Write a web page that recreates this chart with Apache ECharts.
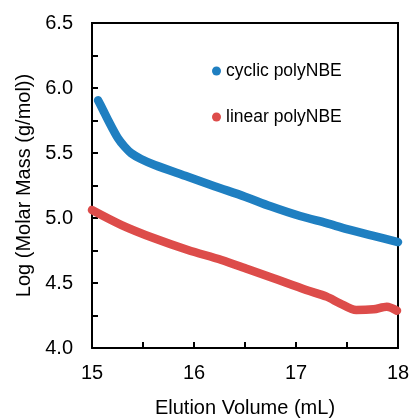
<!DOCTYPE html>
<html><head><meta charset="utf-8">
<script src="https://cdn.jsdelivr.net/npm/echarts@6/dist/echarts.min.js"></script>
<style>html,body{margin:0;padding:0;background:#fff}#c{width:411px;height:418px}</style>
</head><body><div id="c"></div>
<script>
const cyclicX = [15.06, 15.108, 15.157, 15.255, 15.32, 15.385, 15.48, 15.615, 15.94, 16.2, 16.5, 16.75, 17.04, 17.3, 17.5, 17.75, 18.0];
const cyclicY = [5.905, 5.831, 5.754, 5.613, 5.548, 5.498, 5.454, 5.408, 5.318, 5.245, 5.164, 5.09, 5.015, 4.96, 4.915, 4.865, 4.815];
const linearX = [15.0, 15.29, 15.61, 15.94, 16.27, 16.53, 16.78, 17.10, 17.30, 17.43, 17.59, 17.76, 17.89, 17.99];
const linearY = [5.062, 4.946, 4.844, 4.754, 4.677, 4.605, 4.536, 4.446, 4.395, 4.344, 4.292, 4.298, 4.318, 4.287];
const seriesNames = ['cyclic polyNBE', 'linear polyNBE'];
const xTicks = { min: 15, max: 18, step: 1 };
const yTicks = { min: 4.0, max: 6.5, step: 0.5 };

const zip = (a, b) => a.map((v, i) => [v, b[i]]);
const font = 'Liberation Sans, Arial, sans-serif';
const blackLine = { color: '#000', width: 2 };
const nX = Math.round((xTicks.max - xTicks.min) / xTicks.step) + 1;
const nY = Math.round((yTicks.max - yTicks.min) / yTicks.step) + 1;
// split-line colours: only the last (max) line is black, giving the top/right frame edges
const xSplitColors = Array.from({ length: nX }, (_, i) => i === nX - 1 ? '#000' : 'rgba(0,0,0,0)');
const ySplitColors = Array.from({ length: nY }, (_, i) => i === nY - 1 ? '#000' : 'rgba(0,0,0,0)');
const frameData = [[xTicks.min, yTicks.max], [xTicks.max, yTicks.max], [xTicks.max, yTicks.min]];
const chart = echarts.init(document.getElementById('c'));
chart.setOption({
  animation: false,
  grid: { left: 92, right: 13, top: 23, bottom: 70, outerBoundsMode: 'none', containLabel: false },
  legend: {
    orient: 'vertical', left: 207, top: 57, itemGap: 28,
    icon: 'circle', itemWidth: 9, itemHeight: 9,
    textStyle: { fontFamily: font, fontSize: 17.5, color: '#000' },
    data: seriesNames
  },
  xAxis: {
    type: 'value', min: xTicks.min, max: xTicks.max, interval: xTicks.step,
    name: 'Elution Volume (mL)', nameLocation: 'middle', nameGap: 50,
    nameTextStyle: { fontFamily: font, fontSize: 20, color: '#000' },
    axisLine: { onZero: false, lineStyle: blackLine },
    axisTick: { inside: true, length: 6, lineStyle: blackLine },
    minorTick: { show: true, splitNumber: 2, length: 6, lineStyle: blackLine },
    splitLine: { show: true, showMinLine: false, showMaxLine: true, lineStyle: { color: xSplitColors, width: 2 } },
    axisLabel: { fontFamily: font, fontSize: 20, color: '#000', margin: 15 }
  },
  yAxis: {
    type: 'value', min: yTicks.min, max: yTicks.max, interval: yTicks.step,
    name: 'Log (Molar Mass (g/mol))', nameLocation: 'middle', nameGap: 58,
    nameTextStyle: { fontFamily: font, fontSize: 20, color: '#000' },
    axisLine: { show: true, onZero: false, lineStyle: blackLine },
    axisTick: { inside: true, length: 6, lineStyle: blackLine },
    minorTick: { show: true, splitNumber: 2, length: 6, lineStyle: blackLine },
    splitLine: { show: true, showMinLine: false, showMaxLine: true, lineStyle: { color: ySplitColors, width: 2 } },
    axisLabel: { fontFamily: font, fontSize: 20, color: '#000', margin: 19, formatter: v => v.toFixed(1) }
  },
  series: [
    { name: 'frame', type: 'line', data: frameData, silent: true, clip: false, z: 1,
      showSymbol: false, symbol: 'none', color: '#000',
      lineStyle: { color: '#000', width: 2, cap: 'square', join: 'miter' }, emphasis: { disabled: true } },
    { name: seriesNames[0], type: 'line', smooth: 0.3, showSymbol: false, symbol: 'circle', color: '#1f7fc1',
      lineStyle: { width: 8.5, cap: 'round', join: 'round' }, data: zip(cyclicX, cyclicY), z: 3 },
    { name: seriesNames[1], type: 'line', smooth: 0.3, showSymbol: false, symbol: 'circle', color: '#dd4c4a',
      lineStyle: { width: 8.5, cap: 'round', join: 'round' }, data: zip(linearX, linearY), z: 3 }
  ]
});
</script></body></html>
